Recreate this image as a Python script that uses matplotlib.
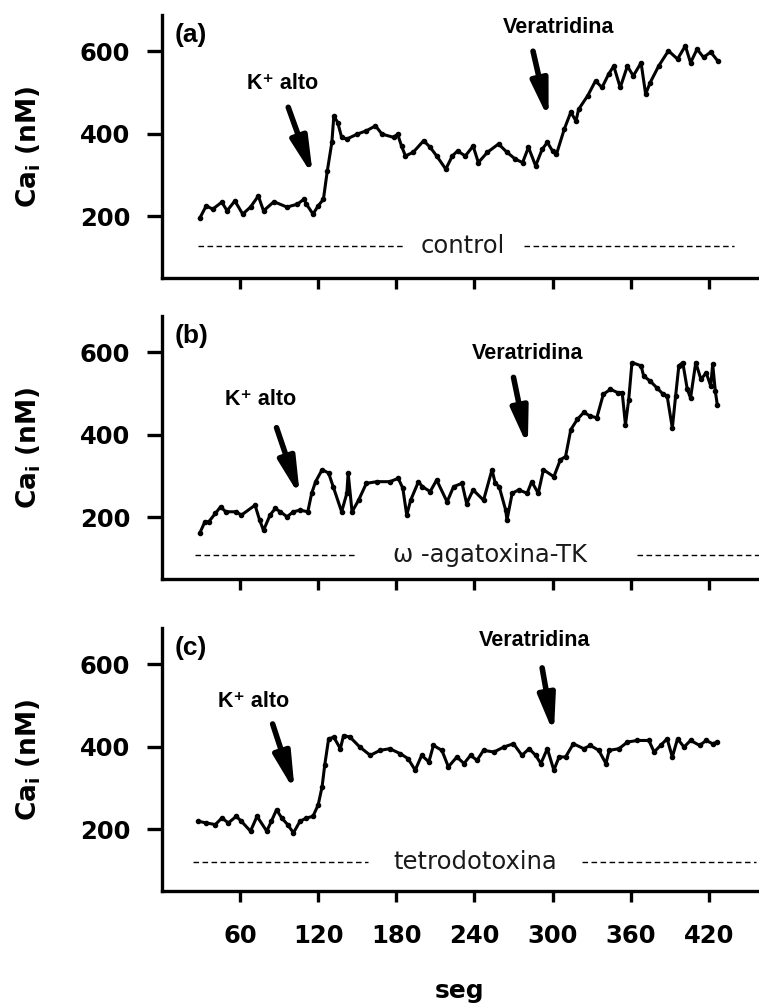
import matplotlib
matplotlib.use("Agg")
import matplotlib.pyplot as plt

# ---------------- data ----------------
t_a = [29, 34, 39, 46, 50, 56, 62, 68, 74, 78, 86, 96, 104, 109, 111, 116, 120, 124, 127, 130.5,
       132, 135, 138, 142, 150, 157, 164, 169, 178, 181, 184, 187, 193, 201, 206, 211, 218, 223, 227, 233,
       239, 243, 250, 258.5, 265, 271.5, 277, 281.5, 287, 292, 296, 300, 303, 309, 314, 318, 320, 327, 333, 338,
       343, 347, 352, 357.5, 362, 368, 371.5, 375, 381.5, 389, 396, 402, 406, 411, 416, 421.5, 427]
ca_a = [195, 225, 217, 234, 213, 237, 205, 222, 249, 213, 235, 222, 229, 241, 229, 205, 225, 241, 310, 379,
        443, 427, 391, 387, 399, 407, 419, 399, 391, 399, 370, 346, 355, 383, 367, 346, 314, 346, 358, 346,
        370, 330, 355, 375, 355, 338, 330, 367, 322, 362, 379, 358, 350, 411, 452, 431, 459, 492, 528, 512,
        544, 564, 512, 564, 540, 572, 496, 524, 564, 601, 581, 613, 572, 605, 585, 598, 576]

t_b = [29, 33, 36, 41, 45, 49, 57, 61, 71.5, 75, 78, 83, 87, 91, 96, 101, 106, 112, 115, 118,
       123, 128, 131.5, 138, 142, 143, 146, 151, 157, 165, 175, 181.5, 185, 188, 191, 197, 200, 206, 211, 219,
       224, 230.5, 234, 239, 247, 253.5, 256, 259, 264, 265, 269, 274, 280.5, 284, 289, 293, 301, 306, 310, 314,
       319, 324, 329, 334, 339, 344.5, 350, 353.5, 356, 358.5, 361, 368, 370, 375, 380, 385, 388, 392, 394.5, 397,
       400, 403.5, 406, 410, 414, 418, 421.5, 423, 425, 426.5]
ca_b = [161, 189, 189, 209, 225, 213, 213, 205, 229, 193, 168, 205, 221, 213, 201, 213, 217, 213, 258, 286,
        315, 307, 274, 213, 258, 307, 213, 241, 282, 286, 286, 294, 270, 205, 241, 286, 274, 262, 290, 237,
        274, 282, 233, 266, 241, 315, 282, 274, 217, 193, 258, 266, 258, 286, 258, 315, 298, 339, 347, 412,
        437, 454, 445, 441, 498, 510, 502, 502, 424, 485, 575, 567, 542, 530, 514, 498, 494, 416, 493, 567,
        575, 510, 489, 575, 534, 550, 518, 571, 506, 473]

t_c = [28, 34, 41, 46, 51, 57, 61, 68, 73, 80.5, 84, 88, 92, 96.5, 101, 106, 111, 116, 120, 123,
       125, 128, 132, 137, 139.5, 144.5, 152, 160, 167.5, 175, 183, 189, 194.5, 199.5, 205, 208.5, 215, 220,
       226.5, 232, 237, 242, 247, 255, 262.5, 270, 276.5, 282, 287, 291, 296, 301, 305, 310, 316, 324, 329,
       335.5, 341, 343.5, 351, 357.5, 365, 374, 378, 383, 388, 392, 396, 401, 406, 413, 418, 423, 426.5]
ca_c = [219, 215, 211, 227, 215, 231, 219, 195, 231, 195, 219, 247, 227, 211, 191, 219, 227, 231, 259, 303,
        355, 419, 423, 395, 427, 423, 399, 379, 391, 395, 383, 371, 343, 379, 363, 403, 391, 351,
        375, 359, 379, 367, 391, 387, 399, 407, 379, 395, 379, 359, 395, 343, 375, 375, 407, 395, 403,
        391, 359, 391, 395, 411, 415, 415, 387, 403, 419, 375, 419, 399, 415, 403, 415, 407, 411]

panel_letters = ["(a)", "(b)", "(c)"]
conditions = ["control", "\u03c9 -agatoxina-TK", "tetrodotoxina"]
stim_k = "K\u207a alto"
stim_v = "Veratridina"
x_ticks = [60, 120, 180, 240, 300, 360, 420]
y_ticks = [200, 400, 600]
y_label = r"Ca$_\mathbf{i}$ (nM)"
x_label = "seg"

# ---------------- layout / annotation geometry ----------------
series = [(t_a, ca_a), (t_b, ca_b), (t_c, ca_c)]
ax_bottoms = [0.7242, 0.4256, 0.1161]
ax_left, ax_w, ax_h = 0.2134, 0.7839, 0.261
xlim = (0, 457)
ylim = (50, 688)

# (text x, text y, arrow tail x, tail y, tip x, tip y)
k_annot = [(93, 522, 97, 464, 116, 297),
           (76, 485, 88, 417, 106, 250),
           (70, 510, 85, 455, 102, 291)]
v_annot = [(305, 658, 285, 600, 297, 435),
           (281, 598, 270, 539, 281, 371),
           (286, 658, 292, 591, 301, 431)]
# (y, left dash from, left dash to, text x, right dash from, right dash to)
baselines = [(127, 28, 185, 231, 278, 439),
             (107, 25, 150, 252, 365, 459),
             (121, 24, 158, 241, 323, 456)]

fig = plt.figure(figsize=(7.59, 10.08), dpi=100)
for i in range(3):
    ax = fig.add_axes([ax_left, ax_bottoms[i], ax_w, ax_h])
    t, v = series[i]
    ax.plot(t, v, color="black", lw=2.2, marker="o", ms=3.0, mfc="black", mec="black")
    ax.set_xlim(*xlim)
    ax.set_ylim(*ylim)
    for s in ["top", "right"]:
        ax.spines[s].set_visible(False)
    for s in ["left", "bottom"]:
        ax.spines[s].set_linewidth(2.4)
    ax.set_xticks(x_ticks)
    ax.set_yticks(y_ticks)
    ax.tick_params(axis="y", length=11, width=2.4, pad=12, labelsize=17.5)
    ax.tick_params(axis="x", length=8, width=2.4, pad=16, labelsize=17.5)
    for lab in ax.get_yticklabels() + ax.get_xticklabels():
        lab.set_fontweight("bold")
    if i < 2:
        ax.set_xticklabels([])
    ax.set_ylabel(y_label, fontsize=19, fontweight="bold")
    ax.yaxis.set_label_coords(-0.2, 0.5)

    ax.text(0.022, 0.968, panel_letters[i], transform=ax.transAxes, ha="left", va="top",
            fontsize=19, fontweight="bold", family=["Liberation Sans", "DejaVu Sans"])

    for (tx, ty, x0, y0, x1, y1), lab in [(k_annot[i], stim_k), (v_annot[i], stim_v)]:
        ax.text(tx, ty, lab, ha="center", va="center", fontsize=15.5, fontweight="bold",
                family=["Liberation Sans", "DejaVu Sans"])
        ax.annotate("", xy=(x1, y1), xytext=(x0, y0),
                    arrowprops=dict(arrowstyle="-|>,head_length=1.1,head_width=0.25",
                                    lw=4, color="black", mutation_scale=20, shrinkA=0, shrinkB=0))

    by, l0, l1, tx, r0, r1 = baselines[i]
    ax.plot([l0, l1], [by, by], color="black", lw=1.0, ls=(0, (4, 2.5)))
    ax.plot([r0, r1], [by, by], color="black", lw=1.0, ls=(0, (4, 2.5)), clip_on=False)
    ax.text(tx, by, conditions[i], ha="center", va="center", fontsize=17.5, color="#1a1a1a")

    if i == 2:
        ax.set_xlabel(x_label, fontsize=18, fontweight="bold", labelpad=22)

fig.savefig("out.png", dpi=100)
